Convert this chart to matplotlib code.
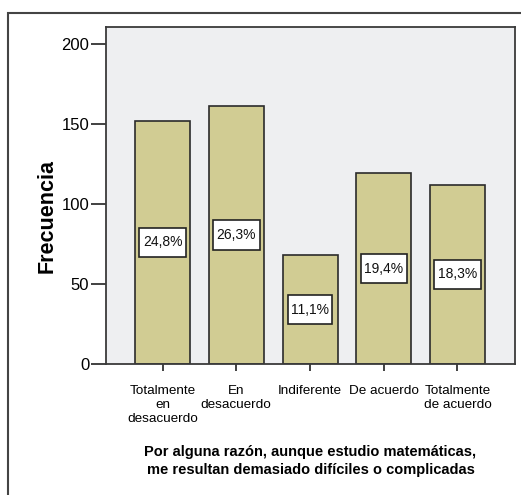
import matplotlib.pyplot as plt
from matplotlib.patches import Rectangle
from matplotlib.path import Path

categorias = ['Totalmente\nen\ndesacuerdo', 'En\ndesacuerdo', 'Indiferente',
              'De acuerdo', 'Totalmente\nde acuerdo']
frecuencias = [152, 161, 68, 119, 112]
y_ticks = [0, 50, 100, 150, 200]

total = sum(frecuencias)
porcentajes = [f / total * 100 for f in frecuencias]

plt.rcParams['font.family'] = ['Liberation Sans', 'DejaVu Sans']


def caja(x0, y0, width, height, mutation_size):
    # caja rectangular con más relleno vertical que horizontal
    px = 0.25 * mutation_size
    py = 0.55 * mutation_size
    x0, y0 = x0 - px, y0 - py
    x1, y1 = x0 + width + 2 * px, y0 + height + 2 * py
    return Path([(x0, y0), (x1, y0), (x1, y1), (x0, y1), (x0, y0)], closed=True)


fig = plt.figure(figsize=(5.21, 4.95), dpi=100)
W, H = 521, 495

# marco exterior
fig.patches.append(Rectangle((8 / W, -0.1), 1, 1.1 - 13 / H, transform=fig.transFigure,
                             fill=False, edgecolor='#444444', linewidth=1.5))

ax = fig.add_axes([106 / W, 1 - 364 / H, (515 - 106) / W, (364 - 27) / H])
ax.set_facecolor('#EEEFF1')

x = range(len(categorias))
ax.bar(x, frecuencias, width=0.746, color='#D1CC93', edgecolor='#2b2b2b', linewidth=1.2, zorder=2)

for i, (f, p) in enumerate(zip(frecuencias, porcentajes)):
    ax.text(i, f / 2, f'{p:.1f}%'.replace('.', ','), ha='center', va='center', fontsize=10,
            color='#111111', zorder=3,
            bbox=dict(boxstyle=caja, facecolor='white', edgecolor='#222222', linewidth=1.2))

ax.set_xlim(-0.767, 4.78)
ax.set_ylim(0, 210.5)
ax.set_yticks(y_ticks)
ax.set_xticks(list(x))
ax.set_xticklabels(categorias, fontsize=9.7, linespacing=1.25)
ax.tick_params(axis='y', length=11, width=1.3, color='#333333', labelsize=12, pad=1)
ax.tick_params(axis='x', length=5, width=1.3, color='#333333', pad=10)
for s in ax.spines.values():
    s.set_color('#3a3a3a')
    s.set_linewidth(1.3)

ax.set_ylabel('Frecuencia', fontsize=15.5, fontweight='bold')
ax.yaxis.set_label_coords(-0.118, 0.44)
ax.set_xlabel('Por alguna razón, aunque estudio matemáticas,\nme resultan demasiado difíciles o complicadas',
              fontsize=10.5, fontweight='bold', labelpad=14, linespacing=1.35)

fig.savefig('out.png', dpi=100)
